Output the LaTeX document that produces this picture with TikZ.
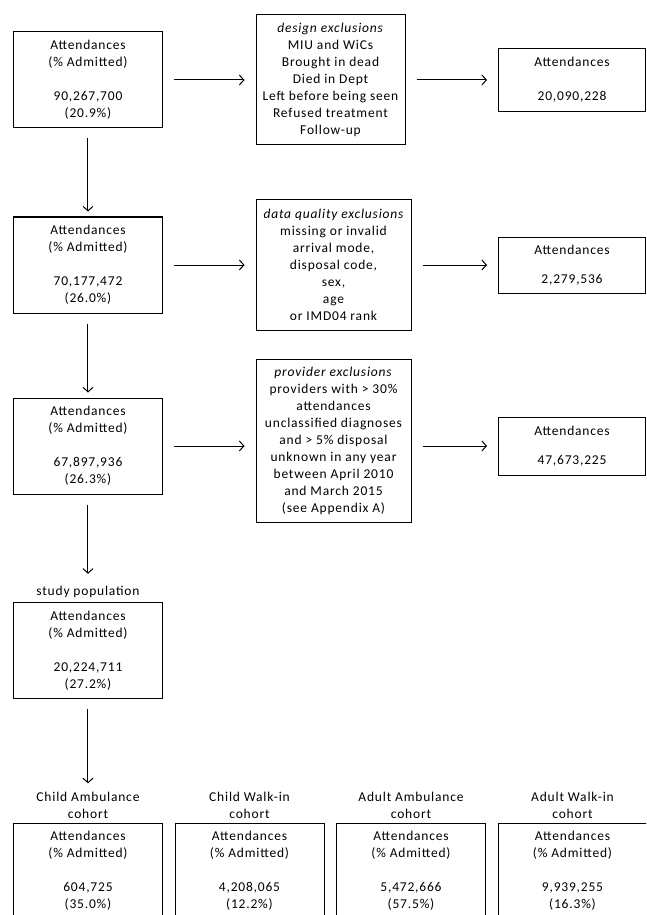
\documentclass[tikz,border=0pt]{standalone}
\usepackage{fontspec}
\setmainfont{Carlito}[LetterSpace=6]
\usetikzlibrary{arrows,arrows.meta}
\usetikzlibrary{positioning,shapes}

\begin{document}
\begin{tikzpicture} [->,>={Straight Barb[length=4.5pt,width=10pt]},auto,node distance=185pt,line width=1pt,
  every node/.style={font=\fontsize{13.5}{17}\selectfont},
  box/.style={draw,rectangle,align=center,inner sep=0pt,minimum width=148pt,minimum height=96pt},
  excl/.style={box,minimum width=155pt,minimum height=130pt},
  count/.style={box,minimum width=147pt,minimum height=58pt},
  down/.style={shorten <=10pt,shorten >=5pt},
  across/.style={shorten <=11pt,shorten >=11pt}]

  \clip (-88pt,80pt) rectangle (558pt,-835pt);

  \node[box] (1) {Attendances\\(\% Admitted)\\[17pt]90,267,700\\(20.9\%)};
  \node[box] (2) [below of=1] {Attendances\\(\% Admitted)\\[17pt]70,177,472\\(26.0\%)};
  \node[box] (3) [below of=2, node distance=181pt] {Attendances\\(\% Admitted)\\[17pt]67,897,936\\(26.3\%)};
  \node[excl] (4) [right of=1, node distance=242.5pt, minimum width=149pt] {\textit{design exclusions}\\MIU and WiCs\\Brought in dead\\Died in Dept\\Left before being seen\\Refused treatment\\Follow-up};
  \node[count] (5) [right of=4, node distance=241.5pt, minimum height=63pt] {Attendances\\[17pt]20,090,228};
  \node[excl] (6) [right of=2, node distance=245.5pt] {\itshape data quality exclusions\\missing or invalid\\arrival mode,\\disposal code,\\sex,\\age\\or IMD04 rank};
  \node[count] (7) [right of=6, node distance=238.5pt, minimum height=56pt] {Attendances\\[12pt]2,279,536};
  \node[excl] (8) [right of=3, node distance=245.5pt, yshift=5.5pt, minimum height=163pt] {\textit{provider exclusions}\\providers with > 30\%\\attendances\\unclassified diagnoses\\and > 5\% disposal\\unknown in any year\\between April 2010\\and March 2015\\(see Appendix A)};
  \node[count] (9) [right of=3, node distance=484pt] {Attendances\\[12pt]47,673,225};
  \node[box] (10) [below of=3, node distance=204.5pt, minimum width=149pt, label={[name=sp]above:study population}] {Attendances\\(\% Admitted)\\[17pt]20,224,711\\(27.2\%)};
  \node[box] (11) [below of=10, node distance=220.5pt, minimum width=149pt, label={[name=c1,align=center]above:Child Ambulance\\cohort}] {Attendances\\(\% Admitted)\\[17pt]604,725\\(35.0\%)};
  \node[box] (12) [right of=11, node distance=161.5pt, minimum width=149pt, label={[align=center]above:Child Walk-in\\cohort}] {Attendances\\(\% Admitted)\\[17pt]4,208,065\\(12.2\%)};
  \node[box] (13) [right of=12, node distance=161.5pt, minimum width=149pt, label={[align=center]above:Adult Ambulance\\cohort}] {Attendances\\(\% Admitted)\\[17pt]5,472,666\\(57.5\%)};
  \node[box] (14) [right of=13, node distance=161.5pt, minimum width=149pt, label={[align=center]above:Adult Walk-in\\cohort}] {Attendances\\(\% Admitted)\\[17pt]9,939,255\\(16.3\%)};

  \path
    (1) edge [down] (2)
        edge [across] (4)
    (4) edge [across] (5)
    (2) edge [down] (3)
        edge [across] (6)
    (6) edge [across] (7)
    (3) edge [down, shorten >=9pt] (sp)
        edge [across] (3 -| 8.west)
    (9 -| 8.east) edge [across] (9)
    (10) edge [down] (c1);

\end{tikzpicture}
\end{document}
